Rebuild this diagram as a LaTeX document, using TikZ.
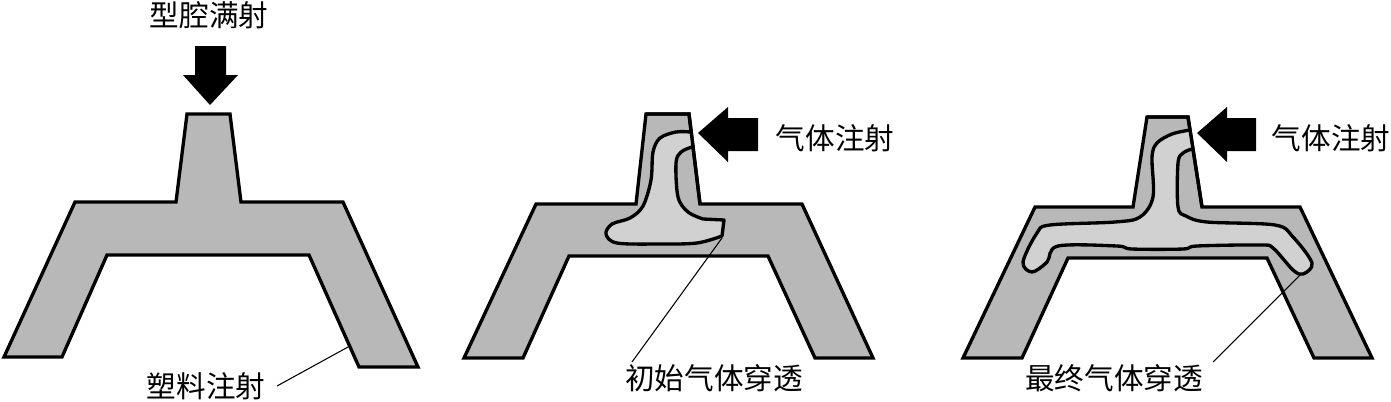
\documentclass[tikz,border=0pt]{standalone}
\usepackage{fontspec}
\newfontfamily\cjk{Noto Sans CJK SC}
\definecolor{plastic}{gray}{0.72}
\definecolor{gas}{gray}{0.82}
\tikzset{
  part/.style={draw=black,line width=2.5pt,line join=miter,fill=plastic},
  outline/.style={draw=black,line width=2.5pt,line join=miter},
  gasfill/.style={draw=black,line width=2.5pt,fill=gas,line join=round},
  bigarrow/.style={fill=black,draw=none},
  lbl/.style={font=\cjk\fontsize{22.2}{24}\selectfont,inner sep=0pt,text=black},
  leader/.style={draw=black,line width=0.8pt}
}
\begin{document}
\begin{tikzpicture}[x=0.75pt,y=-0.75pt]
\useasboundingbox (0,0) rectangle (1391,401);
% left part
\path[part] (187,114)--(230,114)--(241,202)--(343,202)--(418,367)--(359,367)--(309,255)--(107,255)--(62,357)--(4,357)--(75,202)--(176,202)--cycle;
% middle part
\path[part] (646,114)--(689,114)--(700,204)--(802,204)--(873,358)--(815,358)--(768,256)--(569,256)--(523,358)--(464,358)--(536,204)--(636,204)--cycle;
\path[gasfill] plot[smooth,tension=0.55] coordinates {(690,132) (676,132) (660,138) (653,152) (651,180) (643,206) (630,218) (612,224) (606,234) (617,243) (660,244) (697,243) (722,236)} -- (724,220) -- (703,219) plot[smooth,tension=0.55] coordinates {(703,219) (688,212) (678,197) (676,163) (681,152) (692,147)};
\path[outline] (646,114)--(689,114)--(700,204);
% right part
\path[part] (1147,117)--(1188,117)--(1202,207)--(1300,207)--(1372,358)--(1314,358)--(1267,258)--(1068,258)--(1022,358)--(963,358)--(1035,207)--(1133,207)--cycle;
\path[gasfill] plot[smooth,tension=0.55] coordinates {(1190,130) (1172,134) (1157,143) (1152,157) (1153,197) (1140,217) (1115,222) (1050,225) (1037,233) (1023,262) (1032,272) (1047,262) (1058,246) (1117,246) (1132,249) (1183,249) (1197,246) (1260,245) (1273,248) (1293,270) (1303,274) (1312,263) (1293,237) (1275,225) (1207,222) (1186,216) (1178,207) (1178,163) (1183,153) (1192,149)};
\path[outline] (1147,117)--(1188,117)--(1202,207);
% arrows
\path[bigarrow] (195,46)--(226,46)--(226,75)--(238,75)--(210,105)--(183,75)--(195,75)--cycle;
\path[bigarrow] (698,133)--(728,107)--(728,118)--(758,118)--(758,151)--(728,151)--(728,162)--cycle;
\path[bigarrow] (1197,133)--(1227,107)--(1227,118)--(1256,118)--(1256,151)--(1227,151)--(1227,162)--cycle;
% labels
\node[lbl] (fill) at (209,15) {型腔满射};
\node[lbl] (gasa) at (835,138) {气体注射};
\node[lbl] (gasb) at (1331,138) {气体注射};
\node[lbl] (plast) at (206,386) {塑料注射};
\node[lbl] (init) at (714,378) {初始气体穿透};
\node[lbl] (final) at (1114,378) {最终气体穿透};
% leaders
\coordinate (pa) at (348,347);
\coordinate (pb) at (722,238);
\coordinate (pc) at (1300,275);
\coordinate (la) at (277,386);
\coordinate (lb) at (632,362);
\coordinate (lc) at (1213,362);
\draw[leader] (la) -- (pa);
\draw[leader] (lb) -- (pb);
\draw[leader] (lc) -- (pc);
\end{tikzpicture}
\end{document}
